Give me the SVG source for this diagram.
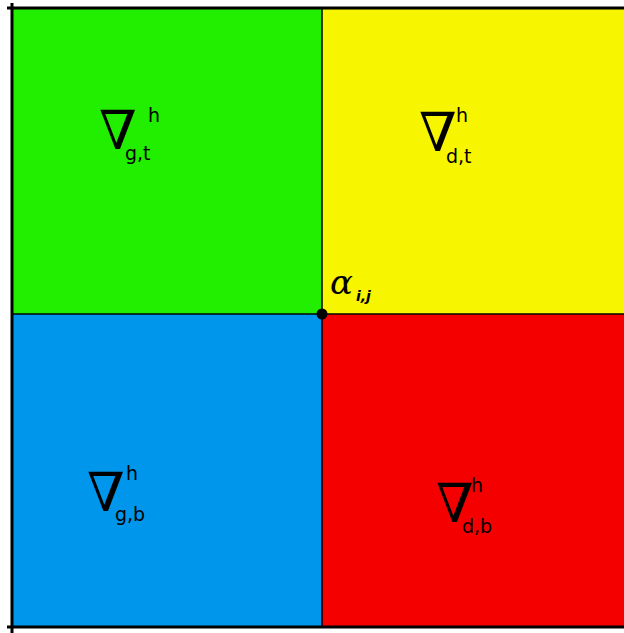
<svg xmlns="http://www.w3.org/2000/svg" width="624" height="633" viewBox="0 0 624 633">
<style>
.nab{font-family:"DejaVu Serif","Liberation Serif",serif;font-size:54px;fill:#000}
.sup{font-family:"DejaVu Sans","Liberation Sans",sans-serif;font-size:19px;fill:#000}
.ax{stroke:#000;stroke-width:3;fill:none}
.div{stroke:#000;stroke-width:1.5;fill:none}
</style>
<rect width="624" height="633" fill="#fff"/>
<g id="cell-gt"><rect x="12" y="8" width="310" height="306" fill="#22ee00"/>
<text class="nab" x="99" y="149">∇</text><text class="sup" x="148" y="122">h</text><text class="sup" x="125" y="160">g,t</text></g>
<g id="cell-dt"><rect x="322" y="8" width="302" height="306" fill="#f7f500"/>
<text class="nab" x="419" y="151">∇</text><text class="sup" x="456" y="122">h</text><text class="sup" x="446" y="163">d,t</text></g>
<g id="cell-gb"><rect x="12" y="314" width="310" height="313" fill="#0096eb"/>
<text class="nab" x="87" y="511">∇</text><text class="sup" x="126" y="480">h</text><text class="sup" x="115" y="521">g,b</text></g>
<g id="cell-db"><rect x="322" y="314" width="302" height="313" fill="#f50000"/>
<text class="nab" x="436" y="522">∇</text><text class="sup" x="471" y="492">h</text><text class="sup" x="462" y="533">d,b</text></g>
<g id="connectors">
<line class="div" x1="322" y1="8" x2="322" y2="627"/>
<line class="div" x1="12" y1="314" x2="624" y2="314"/>
<line class="ax" x1="7" y1="8" x2="624" y2="8"/>
<line class="ax" x1="7" y1="627" x2="624" y2="627"/>
<line class="ax" x1="12" y1="3" x2="12" y2="633"/>
</g>
<g id="node-alpha">
<circle cx="322" cy="314" r="5.5" fill="#000"/>
<text x="330" y="294" font-family="DejaVu Serif,serif" font-style="italic" font-size="34" fill="#000">α</text>
<text x="356" y="301" font-family="DejaVu Sans,sans-serif" font-style="italic" font-weight="bold" font-size="14" fill="#000">i,j</text>
</g>
</svg>
